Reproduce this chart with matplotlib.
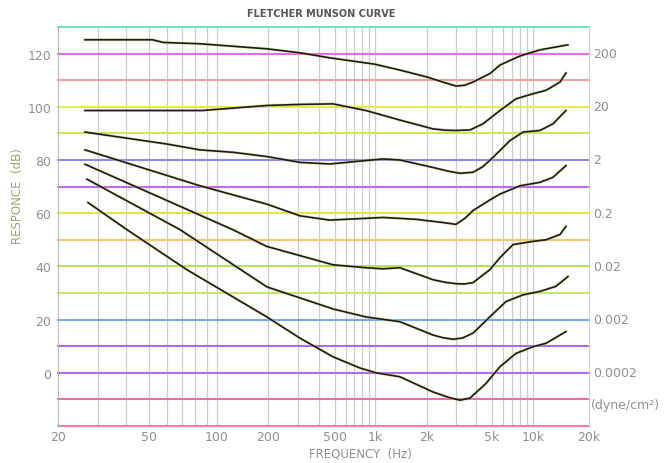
import numpy as np
import matplotlib
matplotlib.use('Agg')
from matplotlib import pyplot as plt
from matplotlib.ticker import NullLocator

# equal loudness curves (frequency in Hz, level in dB)
f_200 = [26.3, 52, 58, 84, 197, 310, 467, 1000, 1395, 2000, 2500, 3007, 3400, 3827, 4862, 5720, 8030, 10900, 15400]
db_200 = [125.2, 125.2, 124.2, 123.7, 121.8, 120.3, 118.4, 116, 113.8, 111.2, 109.3, 107.8, 108.1, 109.3, 112.5, 115.7, 119.1, 121.4, 123.3]

f_20 = [26.3, 85.9, 124, 197, 310, 487, 855, 1395, 2175, 2600, 3007, 3668, 4403, 5720, 7505, 10000, 11750, 13970, 15040]
db_20 = [98.6, 98.6, 99.5, 100.5, 100.9, 101.1, 98.6, 95, 91.7, 91.2, 91.1, 91.3, 93.6, 98.6, 103, 104.9, 106.2, 109.3, 112.7]

f_2 = [26.3, 60.3, 84.2, 124, 197, 310, 467, 855, 1112, 1395, 2175, 2700, 3184, 3827, 4400, 5085, 6780, 8450, 10900, 12810, 15040]
db_2 = [90.5, 86, 83.8, 82.9, 81.3, 79.1, 78.5, 79.8, 80.4, 80, 77.2, 75.8, 75, 75.4, 77.5, 81, 87.3, 90.5, 91.1, 93.6, 98.6]

f_02 = [26.3, 84.2, 197, 310, 467, 1112, 1727, 2500, 3007, 3400, 3827, 4862, 5720, 8030, 10900, 12810, 15040]
db_02 = [83.8, 70.3, 63.4, 59, 57.4, 58.4, 57.7, 56.5, 55.8, 58, 61, 65, 67.2, 70.3, 71.6, 73.5, 77.9]

f_002 = [26.3, 124, 197, 487, 855, 1112, 1395, 2175, 2600, 3007, 3400, 3827, 4862, 5720, 7135, 10000, 11750, 13970, 15040]
db_002 = [78.4, 53.8, 47.5, 40.6, 39.5, 39.1, 39.5, 35, 34, 33.5, 33.4, 33.9, 38.8, 43.3, 48.2, 49.4, 50, 52, 55]

f_0002 = [26.8, 68.8, 197, 487, 855, 1395, 2175, 2500, 2885, 3300, 3827, 4862, 6335, 8450, 10900, 13290, 15420]
db_0002 = [72.8, 53.8, 32.3, 24, 21, 19.2, 14.2, 13.2, 12.6, 13.1, 14.9, 21.1, 26.8, 29.3, 30.6, 32.5, 36.2]

f_00002 = [27.1, 40.2, 73.9, 197, 310, 487, 771, 1013, 1395, 2175, 2700, 3184, 3668, 4595, 5720, 7505, 10000, 11750, 15040]
db_00002 = [64, 53.8, 38.7, 21, 13, 6, 1.8, 0, -1.5, -7.2, -9.2, -10.3, -9.5, -4, 2.3, 7.3, 9.8, 11.1, 15.5]

curves = [(f_200, db_200), (f_20, db_20), (f_2, db_2), (f_02, db_02),
          (f_002, db_002), (f_0002, db_0002), (f_00002, db_00002)]

pressure_levels = [120, 100, 80, 60, 40, 20, 0]
pressure_labels = ['200', '20', '2', '0.2', '0.02', '0.002', '0.0002']

x_ticks = [20, 50, 100, 200, 500, 1000, 2000, 5000, 10000, 20000]
x_ticklabels = ['20', '50', '100', '200', '500', '1k', '2k', '5k', '10k', '20k']

# the printed chart paper is not a clean log scale, so map it piecewise
knot_f = np.log10([20, 100, 200, 500, 1000, 2000, 5000, 10000, 20000])
knot_x = np.array([58, 217, 268, 335, 375, 427, 492, 533, 589], dtype=float)
knot_x = (knot_x - 58) / (589 - 58)

def fwd(f):
    f = np.clip(np.asarray(f, dtype=float), 1e-3, None)
    return np.interp(np.log10(f), knot_f, knot_x)

def inv(x):
    return 10 ** np.interp(np.asarray(x, dtype=float), knot_x, knot_f)

# horizontal rule colours, top (130) to bottom (-20)
h_levels = list(range(130, -30, -10))
h_colors = ['#6fe3c4', '#e66be6', '#f2a0a0', '#e9e94a', '#c9e95a', '#8a8af2',
            '#c46ae6', '#e4e44c', '#f2c86a', '#b6e44a', '#c6e86a', '#78a8f2',
            '#a86af2', '#b46ae6', '#f06aa8', '#f27ab6']

fig = plt.figure(figsize=(6.65, 4.64), dpi=100)
ax = fig.add_axes([58 / 665, 1 - 427 / 464, 531 / 665, 399 / 464])
ax.set_xscale('function', functions=(fwd, inv))
ax.set_xlim(20, 20000)
ax.set_ylim(-20, 130)

grid_f = [m * 10 ** e for e in (1, 2, 3) for m in range(1, 10) if 20 < m * 10 ** e < 10000] + [10000]
for g in grid_f:
    ax.axvline(g, color='#cccccc', lw=0.9, zorder=1)

for lev, col in zip(h_levels, h_colors):
    ax.axhline(lev, color=col, lw=1.5, zorder=2, clip_on=False)

for f, db in curves:
    ax.plot(f, db, color='#d8d070', lw=2.2, alpha=0.5, zorder=3)
    ax.plot(f, db, color='#1a1a1a', lw=1.2, zorder=4, solid_joinstyle='round')

ax.set_xticks(x_ticks)
ax.set_xticklabels(x_ticklabels)
ax.xaxis.set_minor_locator(NullLocator())
ax.set_yticks(pressure_levels)
ax.tick_params(length=0, labelsize=9, labelcolor='#909090')
ax.tick_params(axis='x', pad=3)
ax.tick_params(axis='y', pad=5)

for s in ['top', 'bottom']:
    ax.spines[s].set_visible(False)
ax.spines['left'].set_color('#b8b8b8')
ax.spines['right'].set_color('#c8d8c8')

for lev, lab in zip(pressure_levels, pressure_labels):
    ax.text(1.007, lev, lab, transform=ax.get_yaxis_transform(), fontsize=9,
            color='#909090', va='center', ha='left')
ax.text(1.004, -12, '(dyne/cm²)', transform=ax.get_yaxis_transform(), fontsize=9,
        color='#909090', va='center', ha='left')

fig.text(321 / 665, 1 - 14 / 464, 'FLETCHER MUNSON CURVE', fontsize=7, fontweight='bold',
         color='#555555', ha='center', va='center')
fig.text(360 / 665, 1 - 454 / 464, 'FREQUENCY  (Hz)', fontsize=8.5, color='#909090',
         ha='center', va='center')
fig.text(18 / 665, 1 - 196 / 464, 'RESPONCE  (dB)', fontsize=8.5, color='#a8a070',
         rotation=90, ha='center', va='center')

fig.savefig('out.png', dpi=100)
